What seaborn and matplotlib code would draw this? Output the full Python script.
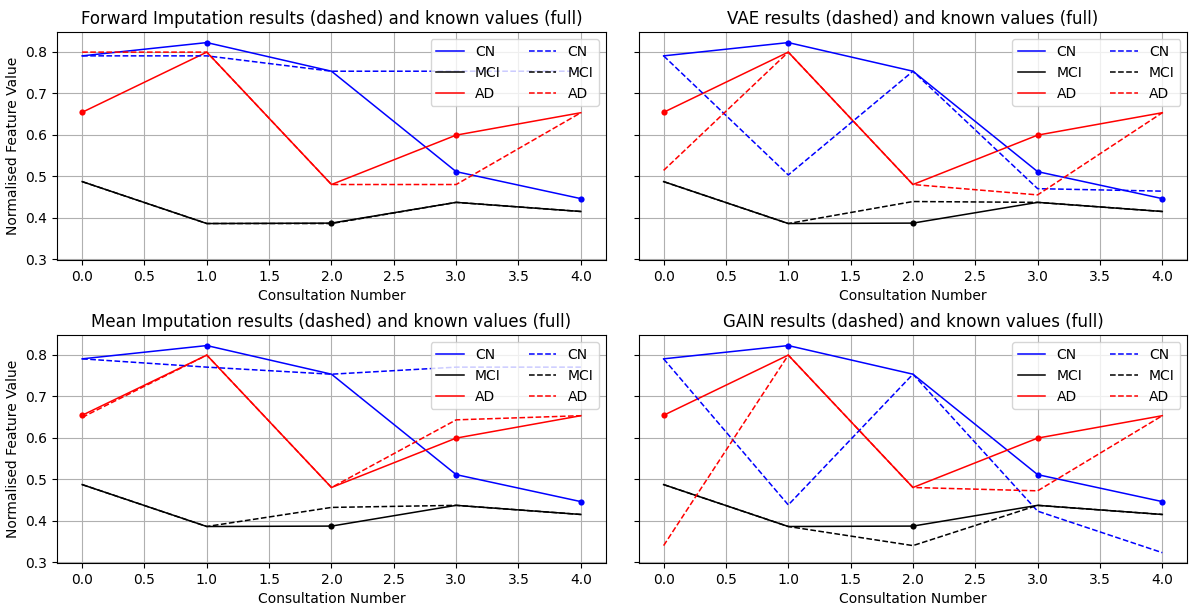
import numpy as np
import pandas as pd
import matplotlib
matplotlib.use("Agg")
import matplotlib.pyplot as plt
import seaborn as sns

# ── DATA ──────────────────────────────────────────────────────────────────────
consultation = [0, 1, 2, 3, 4]
groups = ["CN", "MCI", "AD"]
colors = {"CN": "blue", "MCI": "black", "AD": "red"}

# known values (full lines), same in every panel
known_cn  = [0.790, 0.822, 0.753, 0.511, 0.446]
known_mci = [0.487, 0.386, 0.387, 0.437, 0.415]
known_ad  = [0.654, 0.799, 0.480, 0.599, 0.653]

# which consultations were masked (dots)
masked_cn  = [1, 3, 4]
masked_mci = [2]
masked_ad  = [0, 3]

# imputed values (dashed lines)
forward_cn  = [0.790, 0.790, 0.753, 0.753, 0.753]
forward_mci = [0.487, 0.386, 0.386, 0.437, 0.415]
forward_ad  = [0.799, 0.799, 0.480, 0.480, 0.653]

vae_cn  = [0.790, 0.503, 0.753, 0.470, 0.464]
vae_mci = [0.487, 0.386, 0.439, 0.437, 0.415]
vae_ad  = [0.514, 0.799, 0.480, 0.455, 0.653]

mean_cn  = [0.790, 0.770, 0.753, 0.770, 0.770]
mean_mci = [0.487, 0.386, 0.432, 0.437, 0.415]
mean_ad  = [0.649, 0.799, 0.480, 0.643, 0.653]

gain_cn  = [0.790, 0.438, 0.753, 0.423, 0.323]
gain_mci = [0.487, 0.386, 0.340, 0.437, 0.415]
gain_ad  = [0.340, 0.799, 0.480, 0.472, 0.653]

known = {"CN": known_cn, "MCI": known_mci, "AD": known_ad}
masked = {"CN": masked_cn, "MCI": masked_mci, "AD": masked_ad}
panels = [
    ("Forward Imputation", {"CN": forward_cn, "MCI": forward_mci, "AD": forward_ad}),
    ("VAE",                {"CN": vae_cn,     "MCI": vae_mci,     "AD": vae_ad}),
    ("Mean Imputation",    {"CN": mean_cn,    "MCI": mean_mci,    "AD": mean_ad}),
    ("GAIN",               {"CN": gain_cn,    "MCI": gain_mci,    "AD": gain_ad}),
]

# ── PLOT ──────────────────────────────────────────────────────────────────────
plt.rcParams["font.family"] = ["DejaVu Sans"]
plt.rcParams["font.size"] = 10
fig, axes = plt.subplots(2, 2, figsize=(11.92, 6.08), dpi=100, sharey=True)

for ax, (name, imputed) in zip(axes.flat, panels):
    for g in groups:
        sns.lineplot(x=consultation, y=known[g], color=colors[g], lw=1.1,
                     label=g, ax=ax)
    for g in groups:
        sns.lineplot(x=consultation, y=imputed[g], color=colors[g], lw=1.1,
                     linestyle="--", label=g, ax=ax)
    for g in groups:
        xs = masked[g]
        ys = [known[g][i] for i in xs]
        sns.scatterplot(x=xs, y=ys, color=colors[g], s=20, linewidth=0,
                        legend=False, ax=ax, zorder=3)

    ax.grid(True, color="#b0b0b0", lw=0.8)
    ax.set_title(f"{name} results (dashed) and known values (full)", fontsize=12)
    ax.set_xlabel("Consultation Number", fontsize=10)
    ax.set_ylabel("Normalised Feature Value", fontsize=10)
    ax.tick_params(labelsize=10)
    ax.legend(ncol=2, loc="upper right", fontsize=10)

fig.subplots_adjust(left=0.048, right=0.996, top=0.947, bottom=0.074,
                    wspace=0.06, hspace=0.33)
plt.savefig("out.png", dpi=100)
